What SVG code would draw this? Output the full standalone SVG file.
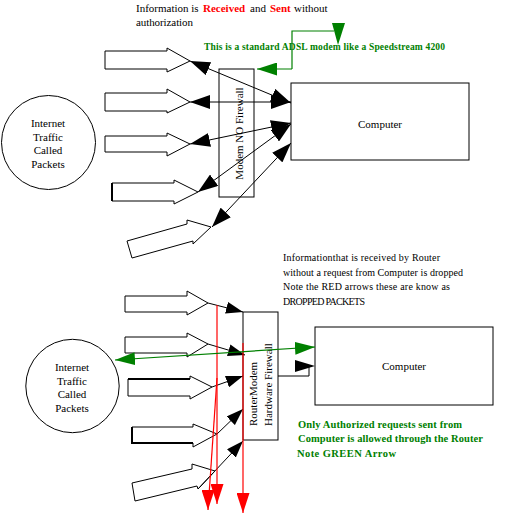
<svg xmlns="http://www.w3.org/2000/svg" width="526" height="527" viewBox="0 0 526 527" font-family="'Liberation Serif', 'Times New Roman', serif">
<style>
text{font-family:"Liberation Serif","Times New Roman",serif;fill:#000}
.t11{font-size:11px}
.t10{font-size:10px}
.g{fill:#008000;font-weight:bold}
.r{fill:#ff0000;font-weight:bold}
.box{fill:#fff;stroke:#000;stroke-width:1}
.blk{fill:#fff;stroke:#000;stroke-width:1;stroke-linejoin:miter}
.ln{fill:none;stroke:#000;stroke-width:1}
.tri{fill:#000}
.red{fill:none;stroke:#ff0000;stroke-width:1.2}
.grn{fill:none;stroke:#008000;stroke-width:1.2}
</style>
<defs>
<marker id="ab" markerUnits="userSpaceOnUse" markerWidth="20" markerHeight="14" refX="20" refY="7" orient="auto-start-reverse"><path d="M0,0 L20,7 L0,14 z" fill="#000"/></marker>
<marker id="as" markerUnits="userSpaceOnUse" markerWidth="17" markerHeight="12" refX="17" refY="6" orient="auto-start-reverse"><path d="M0,0 L17,6 L0,12 z" fill="#000"/></marker>
<marker id="ar" markerUnits="userSpaceOnUse" markerWidth="13" markerHeight="20" refX="6.5" refY="20" orient="0"><path d="M0,0 L13,0 L6.5,20 z" fill="#ff0000"/></marker>
<marker id="ag" markerUnits="userSpaceOnUse" markerWidth="20" markerHeight="13" refX="20" refY="6.5" orient="auto-start-reverse"><path d="M0,0 L20,6.5 L0,13 z" fill="#008000"/></marker>
</defs>
<rect width="526" height="527" fill="#fff"/>

<g id="title">
<text class="t11" y="12"><tspan x="136">Information is</tspan><tspan x="203" class="r">Received</tspan><tspan x="250">and</tspan><tspan x="270" class="r">Sent</tspan><tspan x="294">without</tspan></text>
<text class="t11" x="136" y="26" textLength="57">authorization</text>
</g>
<g id="adsl-note"><text class="g" style="font-size:9.5px" x="204" y="50" textLength="241">This is a standard ADSL modem like a Speedstream 4200</text></g>

<g id="internet-top">
<circle cx="48.5" cy="142.5" r="47" class="box"/>
<text class="t11" text-anchor="middle" x="48" y="126.5">Internet</text>
<text class="t11" text-anchor="middle" x="48" y="140.5">Traffic</text>
<text class="t11" text-anchor="middle" x="48" y="154">Called</text>
<text class="t11" text-anchor="middle" x="48" y="167.5">Packets</text>
</g>

<g id="packets-top">
<polygon class="blk" points="105,51 167,51 167,48 190,61 167,72 167,69 105,69"/>
<polygon class="blk" points="105,93 167,93 167,89 190,102 167,113 167,111 105,111"/>
<polygon class="blk" points="105,136 167,136 167,133 190,144 167,156 167,152 105,152"/>
<polygon class="blk" points="112,183 174,183 174,180 198,192 174,204 174,201 112,201"/>
<line x1="112" y1="183" x2="112" y2="201" stroke="#000" stroke-width="2"/>
<polygon class="blk" points="127,241 187,224 187,220 211,227 193,244 193,241 132,258"/>
</g>

<g id="modem">
<rect x="219" y="69" width="35" height="128" class="box"/>
<text class="t11" text-anchor="middle" transform="translate(243,133.5) rotate(-90)">Modem NO Firewall</text>
</g>

<g id="computer-top">
<rect x="291" y="83" width="178" height="77" class="box"/>
<text class="t11" text-anchor="middle" x="380" y="128">Computer</text>
</g>

<g id="connectors-top">
<line class="ln" x1="190" y1="61" x2="291" y2="103" marker-start="url(#ab)" marker-end="url(#ab)"/>
<line class="ln" x1="190" y1="102" x2="291" y2="102" marker-start="url(#ab)" marker-end="url(#ab)"/>
<line class="ln" x1="190" y1="144" x2="291" y2="123" marker-start="url(#ab)" marker-end="url(#ab)"/>
<line class="ln" x1="198" y1="192" x2="291" y2="124" marker-start="url(#ab)" marker-end="url(#ab)"/>
<line class="ln" x1="212" y1="227" x2="291" y2="143" marker-start="url(#ab)" marker-end="url(#ab)"/>
<polyline class="grn" points="292,69 292,31 334,31"/>
<line class="grn" x1="292" y1="69" x2="257" y2="69" marker-end="url(#ag)"/>
<polygon points="332,23 345,23 338,45" fill="#008000"/>
</g>

<g id="router-note">
<text class="t10" x="283" y="261" textLength="157">Informationthat is received by Router</text>
<text class="t10" x="283" y="275.5" textLength="180">without a request from Computer is dropped</text>
<text class="t10" x="283" y="290" textLength="167">Note the RED arrows these are know as</text>
<text class="t10" x="283" y="304.5" textLength="82">DROPPED PACKETS</text>
</g>

<g id="internet-bottom">
<circle cx="72.5" cy="386" r="46.7" class="box"/>
<text class="t11" text-anchor="middle" x="72" y="370.5">Internet</text>
<text class="t11" text-anchor="middle" x="72" y="384.5">Traffic</text>
<text class="t11" text-anchor="middle" x="72" y="398">Called</text>
<text class="t11" text-anchor="middle" x="72" y="412">Packets</text>
</g>

<g id="packets-bottom">
<polygon class="blk" points="125,296 187,296 187,291 208,303 187,315 187,312 125,312"/>
<polygon class="blk" points="125,337 187,337 187,333 208,344 187,357 187,353 125,353"/>
<polygon class="blk" points="128,379 190,379 190,376 212,387 190,399 190,396 128,396"/>
<line x1="128" y1="379" x2="190" y2="379" stroke="#000" stroke-width="2"/>
<polygon class="blk" points="132,427 193,427 193,424 217,434 193,447 193,443 132,443"/>
<polyline points="132,427 132,443 193,443" fill="none" stroke="#000" stroke-width="2"/>
<polygon class="blk" points="132,483 192,469 192,464 215,471 198,489 197,486 135,501"/>
</g>

<g id="router">
<rect x="243" y="312" width="35" height="128" class="box"/>
<text class="t11" transform="translate(257,426) rotate(-90)">RouterModem</text>
<text class="t11" transform="translate(272,426) rotate(-90)">Hardware Firewall</text>
</g>

<g id="computer-bottom">
<rect x="315" y="327" width="178" height="78" class="box"/>
<text class="t11" text-anchor="middle" x="404" y="370">Computer</text>
</g>

<g id="green-note">
<text class="g" style="font-size:10.5px" x="298" y="428" textLength="164">Only Authorized requests sent from</text>
<text class="g" style="font-size:10.5px" x="298" y="442" textLength="185">Computer is allowed through the Router</text>
<text class="g" style="font-size:10.5px" x="297" y="457" textLength="99">Note GREEN Arrow</text>
</g>

<g id="connectors-bottom">
<line class="ln" x1="208" y1="303" x2="243" y2="312" marker-end="url(#as)"/>
<line class="ln" x1="208" y1="344" x2="245" y2="355" marker-end="url(#as)"/>
<line class="ln" x1="212" y1="387" x2="243" y2="376" marker-end="url(#as)"/>
<line class="ln" x1="217" y1="434" x2="243" y2="409" marker-end="url(#as)"/>
<line class="ln" x1="198" y1="489" x2="243" y2="441" marker-end="url(#as)"/>
<polyline class="ln" points="278,376 309,376 309,366 312,366"/>
<polygon class="tri" points="295,360 315,366 295,372"/>
<line class="red" x1="243" y1="343" x2="243" y2="513" marker-end="url(#ar)"/>
<line class="red" x1="217" y1="305" x2="217" y2="504" marker-end="url(#ar)"/>
<line class="red" x1="217" y1="378" x2="208" y2="510" marker-end="url(#ar)"/>
<line class="grn" x1="115" y1="360" x2="315" y2="347" marker-start="url(#ag)" marker-end="url(#ag)"/>
</g>
</svg>
